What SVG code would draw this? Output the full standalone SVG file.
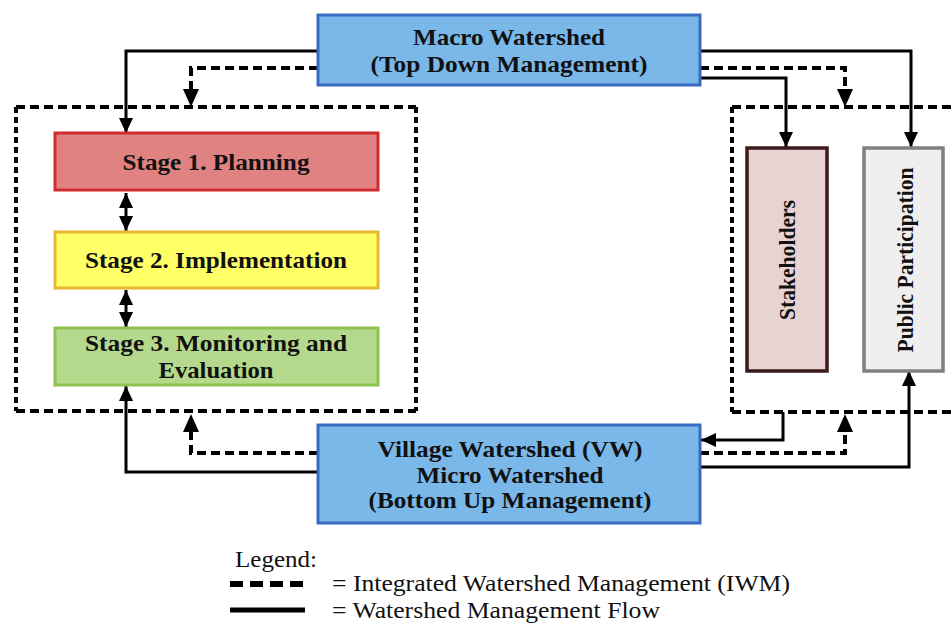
<svg xmlns="http://www.w3.org/2000/svg" width="952" height="623" viewBox="0 0 952 623">
<defs>
<style>
.bt{font-family:"Liberation Serif","Times New Roman",serif;font-weight:bold;font-size:23px;fill:#111;text-anchor:middle}
.lt{font-family:"Liberation Serif","Times New Roman",serif;font-size:23px;fill:#111}
.sol{fill:none;stroke:#000;stroke-width:3}
.dh{fill:none;stroke:#000;stroke-width:4;stroke-dasharray:9 5}
.dv{fill:none;stroke:#000;stroke-width:4;stroke-dasharray:6 4}
</style>
<marker id="ah" viewBox="0 0 15 14" refX="15" refY="7" markerWidth="15" markerHeight="14" markerUnits="userSpaceOnUse" orient="auto-start-reverse">
<path d="M0,0 L15,7 L0,14 Z" fill="#000"/>
</marker>
</defs>
<rect width="952" height="623" fill="#fff"/>

<g id="iwm-box-left">
<path class="dh" d="M16,107 H416"/>
<path class="dh" d="M16,411 H416"/>
<path class="dv" d="M16,107 V411"/>
<path class="dv" d="M416,107 V411"/>
</g>
<g id="iwm-box-right">
<path class="dh" d="M732,107 H952"/>
<path class="dh" d="M732,412 H952"/>
<path class="dv" d="M732,107 V412"/>
</g>

<g id="connectors">
<path class="sol" d="M318,51 H126 V133" marker-end="url(#ah)"/>
<path class="dh" d="M318,68 H191 V90"/>
<path d="M183,89 L199,89 L191,107 Z" fill="#000"/>
<path class="sol" d="M700,51 H911 V147" marker-end="url(#ah)"/>
<path class="sol" d="M700,78 H786 V147" marker-end="url(#ah)"/>
<path class="dh" d="M700,68 H845 V90"/>
<path d="M837,89 L853,89 L845,107 Z" fill="#000"/>
<path class="sol" d="M126,193 V231" marker-start="url(#ah)" marker-end="url(#ah)"/>
<path class="sol" d="M126,290 V327" marker-start="url(#ah)" marker-end="url(#ah)"/>
<path class="sol" d="M318,472 H126 V386" marker-end="url(#ah)"/>
<path class="dh" d="M318,453 H191 V431"/>
<path d="M183,432 L199,432 L191,414 Z" fill="#000"/>
<path class="sol" d="M783,412 V440 H701" marker-end="url(#ah)"/>
<path class="dh" d="M700,453 H845 V431"/>
<path d="M837,432 L853,432 L845,414 Z" fill="#000"/>
<path class="sol" d="M700,467 H909 V371" marker-end="url(#ah)"/>
</g>

<g id="macro">
<rect x="318" y="15" width="382" height="70" fill="#7ab8ea" stroke="#3a6bc2" stroke-width="3"/>
<text class="bt" x="509" y="45" textLength="192" lengthAdjust="spacingAndGlyphs">Macro Watershed</text>
<text class="bt" x="509" y="72" textLength="277" lengthAdjust="spacingAndGlyphs">(Top Down Management)</text>
</g>

<g id="stage1">
<rect x="55" y="133" width="323" height="57" fill="#e08282" stroke="#d02c2c" stroke-width="3"/>
<text class="bt" x="216" y="170" textLength="187" lengthAdjust="spacingAndGlyphs">Stage 1. Planning</text>
</g>
<g id="stage2">
<rect x="55" y="232" width="323" height="56" fill="#ffff66" stroke="#e8b830" stroke-width="3"/>
<text class="bt" x="216" y="268" textLength="262" lengthAdjust="spacingAndGlyphs">Stage 2. Implementation</text>
</g>
<g id="stage3">
<rect x="55" y="328" width="323" height="57" fill="#b5d98c" stroke="#8dc250" stroke-width="3"/>
<text class="bt" x="216" y="351" textLength="262" lengthAdjust="spacingAndGlyphs">Stage 3. Monitoring and</text>
<text class="bt" x="216" y="378" textLength="115" lengthAdjust="spacingAndGlyphs">Evaluation</text>
</g>

<g id="stakeholders">
<rect x="747" y="148" width="80" height="223" fill="#e8d3d3" stroke="#3d1a1a" stroke-width="3.5"/>
<text class="bt" transform="translate(795,260) rotate(-90)" x="0" y="0" textLength="120" lengthAdjust="spacingAndGlyphs">Stakeholders</text>
</g>
<g id="public-participation">
<rect x="864" y="148" width="79" height="223" fill="#efefef" stroke="#808080" stroke-width="3.5"/>
<text class="bt" transform="translate(913,260) rotate(-90)" x="0" y="0" textLength="185" lengthAdjust="spacingAndGlyphs">Public Participation</text>
</g>

<g id="village">
<rect x="318" y="425" width="382" height="98" fill="#7ab8ea" stroke="#3a6bc2" stroke-width="3"/>
<text class="bt" x="510" y="457" textLength="265" lengthAdjust="spacingAndGlyphs">Village Watershed (VW)</text>
<text class="bt" x="510" y="483" textLength="187" lengthAdjust="spacingAndGlyphs">Micro Watershed</text>
<text class="bt" x="510" y="508" textLength="283" lengthAdjust="spacingAndGlyphs">(Bottom Up Management)</text>
</g>

<g id="legend">
<text class="lt" x="235" y="567" textLength="82" lengthAdjust="spacingAndGlyphs">Legend:</text>
<path d="M230,584 H305" fill="none" stroke="#000" stroke-width="6" stroke-dasharray="13 7"/>
<path d="M230,610 H305" fill="none" stroke="#000" stroke-width="5"/>
<text class="lt" x="332" y="591" textLength="458" lengthAdjust="spacingAndGlyphs">= Integrated Watershed Management (IWM)</text>
<text class="lt" x="332" y="618" textLength="328" lengthAdjust="spacingAndGlyphs">= Watershed Management Flow</text>
</g>
</svg>
